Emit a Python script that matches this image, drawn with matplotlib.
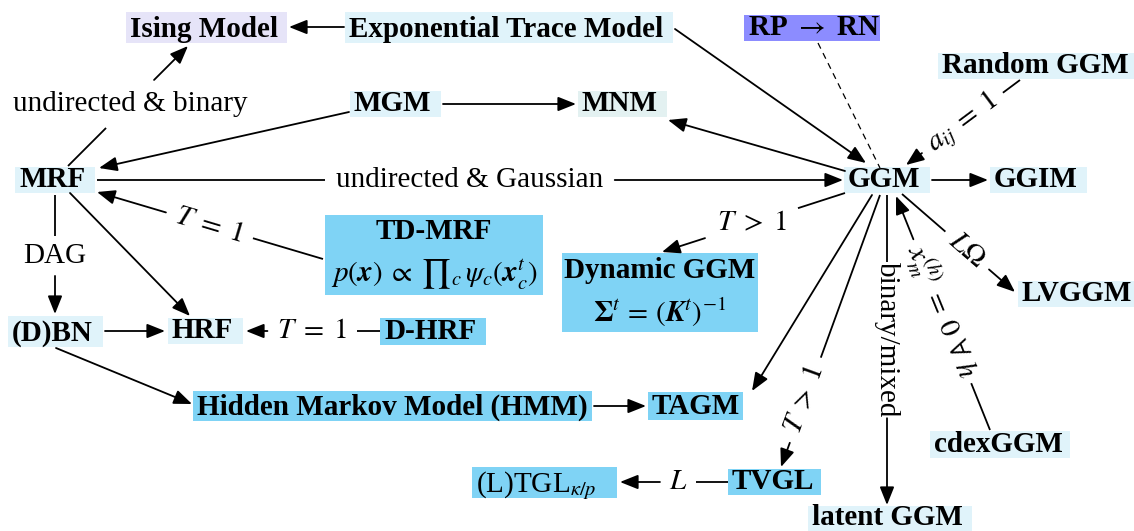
import matplotlib
matplotlib.use("Agg")
import matplotlib.pyplot as plt
from matplotlib.patches import Rectangle, FancyArrowPatch

plt.rcParams["font.family"] = ["Liberation Serif", "DejaVu Serif"]
plt.rcParams["mathtext.fontset"] = "stix"

LIGHT = "#e0f3fa"
SKY = "#7fd3f5"
LAVENDER = "#e6e4f8"
GREYCYAN = "#e3f1f1"
PURPLE = "#8c8cff"

# nodes of the diagram
node_ids = ["ising", "etm", "rprn", "rggm", "mgm", "mnm", "mrf", "ggm", "ggim",
            "dbn", "hrf", "dhrf", "lvggm", "hmm", "tagm", "cdex", "ltgl", "tvgl", "latent"]
node_labels = ["Ising Model", "Exponential Trace Model", r"RP $\rightarrow$ RN", "Random GGM",
               "MGM", "MNM", "MRF", "GGM", "GGIM", "(D)BN", "HRF", "D-HRF", "LVGGM",
               "Hidden Markov Model (HMM)", "TAGM", "cdexGGM", r"(L)TGL$_{\kappa/p}$",
               "TVGL", "latent GGM"]
node_colors = [LAVENDER, LIGHT, PURPLE, LIGHT, LIGHT, GREYCYAN, LIGHT, LIGHT, LIGHT,
               LIGHT, LIGHT, SKY, LIGHT, SKY, SKY, LIGHT, SKY, SKY, LIGHT]
node_bold = [True] * 16 + [False, True, True]

# two-line nodes
multi_ids = ["tdmrf", "dyn"]
multi_title = ["TD-MRF", "Dynamic GGM"]
multi_formula = [r"$p(\mathbfit{x})\; \propto\; {\prod}_c\, \psi_c(\mathbfit{x}_c^t)$",
                 r"$\mathbf{\Sigma}^t\,=\,(\mathbfit{K}^t)^{-1}$"]

# edges: source, target, label
edge_src = ["etm", "mrf", "mgm", "mgm", "ggm", "etm", "mrf", "rprn", "rggm", "ggm",
            "tdmrf", "mrf", "mrf", "dbn", "dhrf", "dbn", "hmm", "ggm", "ggm", "ggm",
            "ggm", "cdex", "ggm", "tvgl"]
edge_dst = ["ising", "ising", "mrf", "mnm", "mnm", "ggm", "ggm", "ggm", "ggm", "ggim",
            "mrf", "dbn", "hrf", "hrf", "hrf", "hmm", "tagm", "dyn", "tagm", "tvgl",
            "latent", "ggm", "lvggm", "ltgl"]
edge_labels = ["", "undirected & binary", "", "", "", "", "undirected & Gaussian", "",
               r"$a_{ij}\;=\;1$", "", r"$T\;=\;1$", "DAG", "", "", r"$T\;=\;1$", "", "",
               r"$T\;>\;1$", "", r"$T\;>\;1$", "binary/mixed", r"$x_m^{(h)}\;=\;0\ \forall\ h$",
               r"$L\Omega$", r"$L$"]

# ---- layout (pixel coordinates) ----
boxes = {
    "ising": (126, 12, 287, 43), "etm": (345, 12, 673, 43), "rprn": (744, 15, 880, 41),
    "rggm": (938, 53, 1134, 79), "mgm": (350, 91, 441, 117), "mnm": (578, 91, 667, 117),
    "mrf": (15, 167, 95, 193), "ggm": (844, 167, 930, 193), "ggim": (990, 167, 1087, 193),
    "dbn": (8, 316, 103, 347), "hrf": (168, 318, 243, 344), "dhrf": (380, 318, 486, 345),
    "lvggm": (1018, 281, 1134, 307), "hmm": (193, 391, 592, 421), "tagm": (648, 392, 743, 420),
    "cdex": (930, 431, 1070, 458), "ltgl": (472, 467, 617, 498), "tvgl": (728, 469, 821, 495),
    "latent": (808, 506, 972, 531),
    "tdmrf": (325, 215, 543, 295), "dyn": (562, 253, 758, 332),
}
multi_baselines = {"tdmrf": (239, 281), "dyn": (278, 322)}

# endpoints, gap fractions (label sits in the gap), label rotation
edge_geom = [
    ((344, 27), (289, 27), None, 0),
    ((68, 166), (188, 46), (0.317, 0.717), 0),
    ((349, 112), (99, 168), None, 0),
    ((443, 104), (576, 104), None, 0),
    ((845, 171), (668, 120), None, 0),
    ((675, 29), (866, 163), None, 0),
    ((97, 180), (843, 180), (0.306, 0.694), 0),
    ((818, 43), (880, 168), None, 0),
    ((1020, 80), (906, 165), (0.15, 0.86), 36.7),
    ((932, 180), (988, 180), None, 0),
    ((323, 259), (97, 192), (0.31, 0.695), -16.6),
    ((55, 195), (55, 314), (0.345, 0.68), 0),
    ((70, 193), (190, 316), None, 0),
    ((105, 331), (165, 331), None, 0),
    ((380, 331), (246, 331), (0.17, 0.84), 0),
    ((56, 348), (192, 404), None, 0),
    ((594, 406), (646, 406), None, 0),
    ((845, 193), (662, 252), (0.257, 0.765), 0),
    ((872, 195), (752, 391), None, 0),
    ((880, 195), (781, 467), (0.598, 0.911), 70),
    ((887, 195), (887, 505), (0.216, 0.72), -90),
    ((990, 430), (896, 196), (0.2, 0.815), -67.8),
    ((902, 194), (1015, 292), (0.384, 0.77), -41),
    ((728, 482), (620, 482), (0.3, 0.63), 0),
]

LW = 1.3
ARROW = "-|>,head_length=0.55,head_width=0.22"


def lerp(p0, p1, t):
    return (p0[0] + (p1[0] - p0[0]) * t, p0[1] + (p1[1] - p0[1]) * t)


fig = plt.figure(figsize=(11.34, 5.31), dpi=100)
ax = fig.add_axes([0, 0, 1, 1])
ax.set_xlim(0, 1134)
ax.set_ylim(531, 0)
ax.axis("off")

for nid, label, color, bold in zip(node_ids, node_labels, node_colors, node_bold):
    x0, y0, x1, y1 = boxes[nid]
    ax.add_patch(Rectangle((x0, y0), x1 - x0, y1 - y0, facecolor=color, edgecolor="none", zorder=1))
    ax.text(x0 + 4, y1 - 6, label, fontsize=21, fontweight="bold" if bold else "normal",
            ha="left", va="baseline", zorder=3)

for nid, title, formula in zip(multi_ids, multi_title, multi_formula):
    x0, y0, x1, y1 = boxes[nid]
    b1, b2 = multi_baselines[nid]
    ax.add_patch(Rectangle((x0, y0), x1 - x0, y1 - y0, facecolor=SKY, edgecolor="none", zorder=1))
    xc = (x0 + x1) / 2
    ax.text(xc, b1, title, fontsize=21, fontweight="bold", ha="center", va="baseline", zorder=3)
    ax.text(xc, b2, formula, fontsize=21, ha="center", va="baseline", zorder=3)

for (p0, p1, gap, rot), label, src in zip(edge_geom, edge_labels, edge_src):
    dashed = src == "rprn"
    start = p0
    if gap is not None:
        m0 = lerp(p0, p1, gap[0])
        start = lerp(p0, p1, gap[1])
        ax.plot([p0[0], m0[0]], [p0[1], m0[1]], color="black", lw=LW, solid_capstyle="butt", zorder=2)
        lx, ly = lerp(p0, p1, (gap[0] + gap[1]) / 2)
        ax.text(lx, ly, label, fontsize=21, ha="center", va="center", rotation=rot,
                rotation_mode="anchor", zorder=3)
    if dashed:
        ax.plot([p0[0], p1[0]], [p0[1], p1[1]], color="black", lw=0.9, ls=(0, (5, 4)), zorder=2)
        continue
    ax.add_patch(FancyArrowPatch(start, p1, arrowstyle=ARROW, mutation_scale=20, lw=LW,
                                 color="black", shrinkA=0, shrinkB=0, zorder=2))

fig.savefig("out.png", dpi=100)
